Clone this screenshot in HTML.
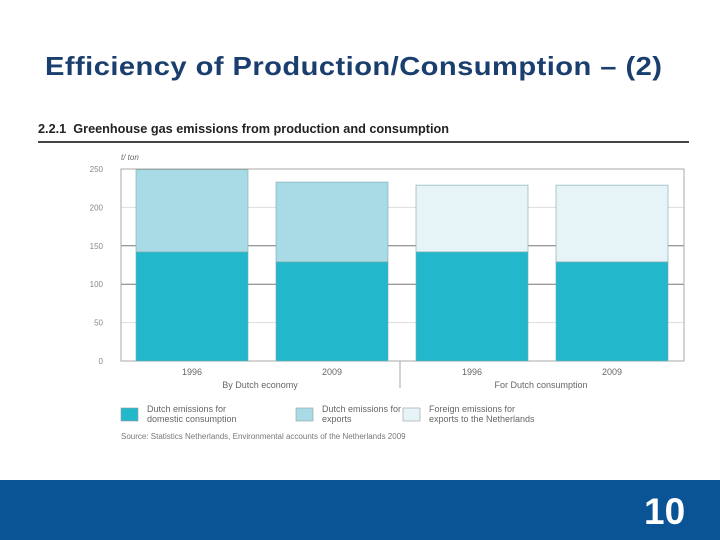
<!DOCTYPE html>
<html><head><meta charset="utf-8"><style>
body{margin:0;width:720px;height:540px;background:#fff;position:relative;overflow:hidden;font-family:"Liberation Sans",sans-serif}
.t{position:absolute}
</style></head><body>
<div class="t" style="left:45px;top:51px;font-size:26px;font-weight:bold;color:#1a3e6e;letter-spacing:0.4px;transform:scaleX(1.12);transform-origin:left top;white-space:nowrap">Efficiency of Production/Consumption – (2)</div>
<div class="t" style="left:38px;top:122px;font-size:12.7px;font-weight:bold;color:#222">2.2.1&nbsp;&nbsp;Greenhouse gas emissions from production and consumption</div>
<div class="t" style="left:38px;top:141px;width:651px;height:2px;background:#444"></div>
<svg id="chart" width="720" height="540" style="position:absolute;left:0;top:0" font-family="Liberation Sans, sans-serif"></svg>
<div class="t" style="left:0;top:480px;width:720px;height:60px;background:#0a5394"></div>
<div class="t" style="left:644px;top:491px;font-size:37px;font-weight:bold;color:#fff">10</div>
<script>
const categories=["1996","2009","1996","2009"];
const domestic=[142,129,142,129];
const exportsD=[107,104,0,0];
const foreign=[0,0,87,100];
const yTicks=[0,50,100,150,200,250];
const svg=document.getElementById('chart');
const NS='http://www.w3.org/2000/svg';
function mk(t,a,txt){const e=document.createElementNS(NS,t);for(const k in a)e.setAttribute(k,a[k]);if(txt!==undefined)e.textContent=txt;svg.appendChild(e);return e;}
const x0=121,x1=684,y0=361,yTop=169;
const y=v=>y0-(v/250)*(y0-yTop);
const bx=[136,276,416,556],bw=112;
yTicks.forEach(v=>{
 const l=mk('line',{x1:x0,x2:x1,y1:y(v),y2:y(v),stroke:(v==100||v==150)?'#777':'#ddd','stroke-width':1});
 
 
 const t=mk('text',{x:103,y:y(v)+3,'font-size':8,fill:'#888','text-anchor':'end'},v);
 
 
});
const ax=mk('rect',{x:x0,y:yTop,width:x1-x0,height:y0-yTop,fill:'none',stroke:'#aaa','stroke-width':1});


const u=mk('text',{x:121,y:160,'font-size':8,fill:'#666','font-style':'italic'},'t/ ton');


categories.forEach((c,i)=>{
 const segs=[[domestic[i],'#22b7cb'],[exportsD[i],'#a9dbe6'],[foreign[i],'#e6f4f8']];
 let base=0;
 segs.forEach((s,j)=>{
  if(s[0]<=0)return;
  const r=mk('rect',{x:bx[i],y:y(base+s[0]),width:bw,height:y(base)-y(base+s[0]),fill:s[1],stroke:'#7aa',"stroke-width":0.6});
  
  
  base+=s[0];
 });
 const t=mk('text',{x:bx[i]+bw/2,y:375,'font-size':9,fill:'#666','text-anchor':'middle'},c);
 
 
});
const d=mk('line',{x1:400,x2:400,y1:361,y2:388,stroke:'#aaa'});


[[260,'By Dutch economy','group-label-economy'],[541,'For Dutch consumption','group-label-consumption']].forEach(g=>{
 const t=mk('text',{x:g[0],y:388,'font-size':9,fill:'#666','text-anchor':'middle'},g[1]);
 
 
});
[[121,'#22b7cb','Dutch emissions for','domestic consumption'],[296,'#a9dbe6','Dutch emissions for','exports'],[403,'#e6f4f8','Foreign emissions for','exports to the Netherlands']].forEach(l=>{
 const r=mk('rect',{x:l[0],y:408,width:17,height:13,fill:l[1],stroke:'#999','stroke-width':0.6});
 
 
 const a=mk('text',{x:l[0]+26,y:412,'font-size':9,fill:'#666'},l[2]);
 
 
 const b=mk('text',{x:l[0]+26,y:422,'font-size':9,fill:'#666'},l[3]);
 
 
});
const s=mk('text',{x:121,y:439,'font-size':8,fill:'#777'},'Source: Statistics Netherlands, Environmental accounts of the Netherlands 2009');


</script>
</body></html>
